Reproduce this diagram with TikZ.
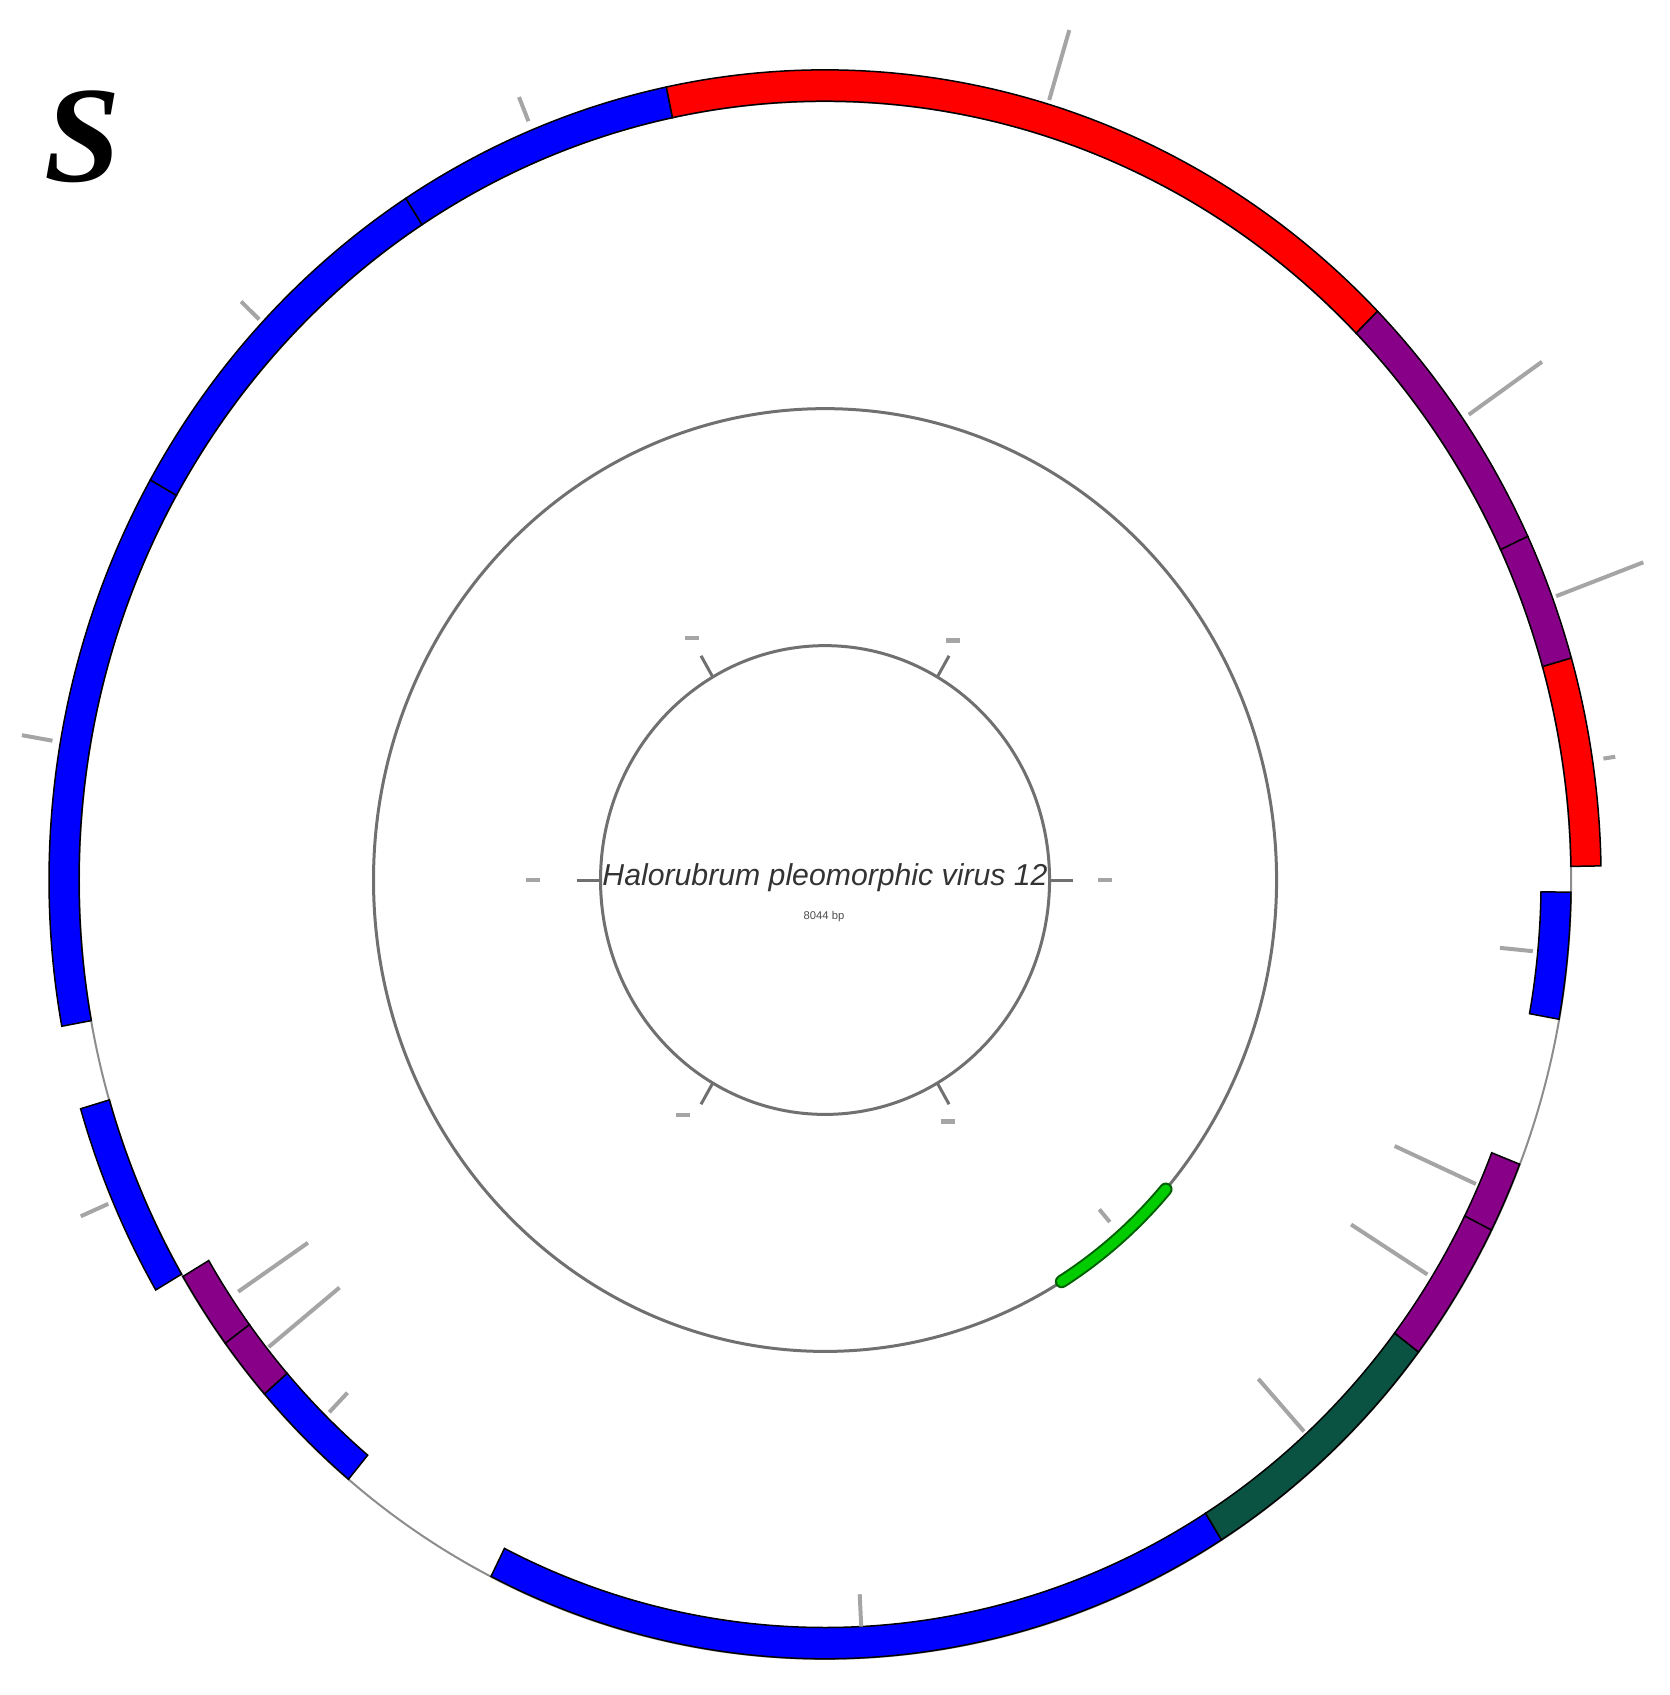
\documentclass[tikz,border=0pt]{standalone}
\usepackage{fontspec}
\newfontfamily\labfont{Liberation Sans}
\newfontfamily\bigserif{Liberation Serif}
\definecolor{gblue}{RGB}{0,0,255}
\definecolor{gred}{RGB}{255,0,0}
\definecolor{gpurple}{RGB}{136,0,136}
\definecolor{gdkgreen}{RGB}{10,82,66}
\definecolor{glime}{RGB}{0,204,0}
\definecolor{glimedark}{RGB}{0,95,0}
\definecolor{ringgray}{RGB}{112,112,112}
\definecolor{labgray}{RGB}{165,165,165}
\newcommand\genebar[5]{\draw[barline, fill=#5] (#1:#3) arc[start angle=#1, end angle=#2, radius=#3] -- (#2:#4) arc[start angle=#2, end angle=#1, radius=#4] -- cycle;}
\newcommand\fwd[3]{\genebar{#1}{#2}{746}{776}{#3}}
\newcommand\rev[3]{\genebar{#1}{#2}{716}{746}{#3}}
\newcommand\glabel[3]{\draw[genelab] (#1:#2) -- (#1:#3);}
\tikzset{
  barline/.style={draw=black, line width=0.15mm, line join=miter},
  genelab/.style={draw=labgray, line width=0.4mm},
  ring/.style={draw=ringgray, line width=0.3mm},
  baseline/.style={draw=ringgray!80, line width=0.2mm},
  ticklab/.style={fill=labgray, inner sep=0pt, minimum width=1.4mm, minimum height=0.45mm}
}
\begin{document}
\begin{tikzpicture}[x=0.1mm, y=0.1044mm]
\useasboundingbox (-825,-780.6) rectangle (844,842.9);
% panel letter
\node[font=\bigserif\bfseries\itshape\fontsize{39}{42}\selectfont, anchor=center] (letter) at (-742,712) {S};
% outer baseline
\draw[baseline] (0,0) circle[radius=746];
% forward genes (outside)
\fwd{150.4}{190.4}{gblue}
\fwd{122.7}{150.4}{gblue}
\fwd{101.8}{122.7}{gblue}
\fwd{44.6}{101.8}{gred}
\fwd{25.1}{44.6}{gpurple}
\fwd{15.9}{25.1}{gpurple}
\fwd{1.0}{15.9}{gred}
\fwd{196.4}{210.4}{gblue}
% reverse genes (inside)
\rev{210.6}{216.5}{gpurple}
\rev{216.5}{221.3}{gpurple}
\rev{221.3}{230.3}{gblue}
\rev{243.4}{302.1}{gblue}
\rev{302.1}{322.7}{gdkgreen}
\rev{322.7}{333.3}{gpurple}
\rev{333.3}{338.6}{gpurple}
\rev{349.7}{359.1}{gblue}
% gene labels (illegible in source, drawn as grey strokes)
\glabel{170.2}{784}{815}
\glabel{136.5}{780}{805}
\glabel{112.2}{785}{810}
\glabel{73.3}{780}{850}
\glabel{34.7}{783}{872}
\glabel{20.4}{780}{873}
\glabel{8.5}{787}{799}
\glabel{203.4}{781}{811}
\glabel{213.9}{707}{623}
\glabel{218.8}{714}{623}
\glabel{225.8}{711}{685}
\glabel{272.9}{716}{685}
\glabel{312.2}{713}{645}
\glabel{327.9}{711}{621}
\glabel{335.9}{713}{624}
\glabel{354.5}{711}{678}
% middle ring with green feature
\draw[ring] (0,0) circle[radius=451.5];
\draw[glimedark, line width=1.35mm, line cap=round] (301.6:451.5) arc[start angle=301.6, end angle=319, radius=451.5];
\draw[glime, line width=0.95mm, line cap=round] (301.6:451.5) arc[start angle=301.6, end angle=319, radius=451.5];
\glabel{311}{434}{418}
% inner ring with scale ticks
\draw[ring] (0,0) circle[radius=224.5];
\foreach \a in {0,60,120,180,240,300}{
  \draw[ring] (\a:224.5) -- (\a:248);
}
\node[ticklab] (t0) at (0:280) {};
\node[ticklab] (t60) at (60.8:263) {};
\node[ticklab] (t120) at (119.8:267) {};
\node[ticklab] (t180) at (180:292) {};
\node[ticklab] (t240) at (237.8:266) {};
\node[ticklab] (t300) at (298:262) {};
% title
\node[font=\labfont\itshape\fontsize{8.6}{10}\selectfont, text=black!80, inner sep=0pt] (title) at (0,2) {Halorubrum pleomorphic virus 12};
\node[font=\labfont\fontsize{3.2}{4}\selectfont, text=black!70, inner sep=0pt] (len) at (-1,-35) {8044 bp};
\end{tikzpicture}
\end{document}
